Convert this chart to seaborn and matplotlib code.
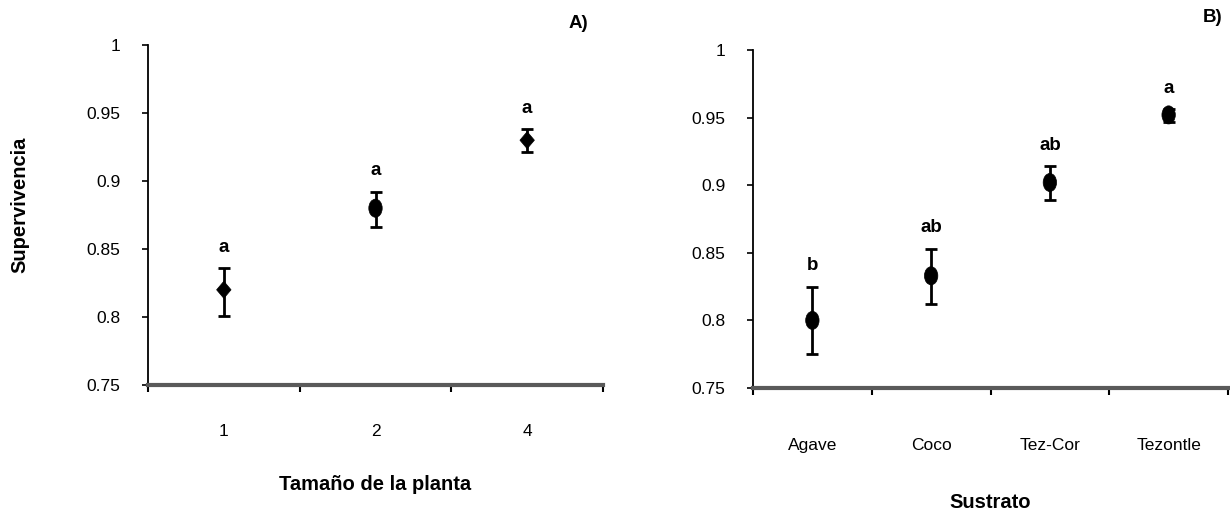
import numpy as np
import pandas as pd
import matplotlib
matplotlib.use("Agg")
import matplotlib.pyplot as plt
from matplotlib.path import Path
from matplotlib.ticker import FixedLocator
import seaborn as sns

# Panel A: survival by plant size
tamano = ['1', '2', '4']
tamano_media = [0.820, 0.880, 0.930]
tamano_inf = [0.801, 0.866, 0.921]
tamano_sup = [0.836, 0.892, 0.938]
tamano_letras = ['a', 'a', 'a']
tamano_forma = ['rombo', 'circulo', 'rombo']

# Panel B: survival by substrate
sustrato = ['Agave', 'Coco', 'Tez-Cor', 'Tezontle']
sustrato_media = [0.800, 0.833, 0.902, 0.952]
sustrato_inf = [0.775, 0.812, 0.889, 0.947]
sustrato_sup = [0.825, 0.853, 0.914, 0.956]
sustrato_letras = ['b', 'ab', 'ab', 'a']
sustrato_forma = ['circulo'] * 4

y_ticks = [0.75, 0.8, 0.85, 0.9, 0.95, 1.0]
y_labels = ['0.75', '0.8', '0.85', '0.9', '0.95', '1']

sns.set_style('white')
plt.rcParams['font.family'] = ['Liberation Sans', 'DejaVu Sans']
plt.rcParams['text.color'] = 'black'
plt.rcParams['axes.labelcolor'] = 'black'
plt.rcParams['xtick.color'] = 'black'
plt.rcParams['ytick.color'] = 'black'

# tall ellipse and narrow diamond, like the spreadsheet markers
circ = Path.unit_circle()
elipse = Path(circ.vertices * np.array([0.74, 1.0]), circ.codes)
rombo = Path([(0, 1), (0.85, 0), (0, -1), (-0.85, 0), (0, 1)],
             [Path.MOVETO, Path.LINETO, Path.LINETO, Path.LINETO, Path.CLOSEPOLY])
marcadores = {'circulo': elipse, 'rombo': rombo}

fig = plt.figure(figsize=(12.3, 5.25), dpi=100)
ax_a = fig.add_axes([148 / 1230, (525 - 385) / 525, (603 - 148) / 1230, 340 / 525])
ax_b = fig.add_axes([753 / 1230, (525 - 388) / 525, (1228 - 753) / 1230, 338 / 525])


def panel(ax, cats, media, inf, sup, letras, forma, xlabel, tick_pad, xlab_y, tamanos):
    df = pd.DataFrame({'cat': cats, 'media': media, 'forma': forma})
    pos = np.arange(len(cats))
    err = [np.array(media) - np.array(inf), np.array(sup) - np.array(media)]
    ax.errorbar(pos, media, yerr=err, fmt='none', ecolor='black',
                elinewidth=2, capsize=4.5, capthick=2, zorder=2)
    sns.scatterplot(data=df, x='cat', y='media', style='forma', markers=marcadores,
                    size='forma', sizes=tamanos, color='black', edgecolor='black',
                    linewidth=0.5, legend=False, ax=ax, zorder=3)
    for i, t in enumerate(letras):
        ax.annotate(t, (i, sup[i]), xytext=(0, 9), textcoords='offset points',
                    ha='center', va='bottom', fontsize=13.5, fontweight='bold')

    ax.set_ylim(0.75, 1.0)
    ax.set_xlim(-0.5, len(cats) - 0.5)
    ax.set_yticks(y_ticks)
    ax.set_yticklabels(y_labels)
    ax.set_xticks(pos)
    ax.set_xticklabels(cats)
    ax.xaxis.set_minor_locator(FixedLocator(np.arange(len(cats) + 1) - 0.5))
    ax.tick_params(axis='x', which='major', length=0, pad=tick_pad, labelsize=12.5)
    ax.tick_params(axis='x', which='minor', length=5, width=1.5, color='black',
                   direction='out', bottom=True)
    ax.tick_params(axis='y', length=4, width=1.2, color='black', direction='out',
                   left=True, pad=16, labelsize=12.5)

    for s in ['top', 'right']:
        ax.spines[s].set_visible(False)
    ax.spines['left'].set_color('black')
    ax.spines['left'].set_linewidth(1.3)
    ax.spines['bottom'].set_color('#5a5a5a')
    ax.spines['bottom'].set_linewidth(3)

    ax.set_xlabel(xlabel, fontsize=14.5, fontweight='bold')
    ax.xaxis.set_label_coords(0.5, xlab_y)
    ax.xaxis.label.set_va('center')
    ax.set_ylabel('')


panel(ax_a, tamano, tamano_media, tamano_inf, tamano_sup, tamano_letras,
      tamano_forma, 'Tamaño de la planta', 28, -(485 - 385) / 340,
      {'circulo': 170, 'rombo': 150})
panel(ax_b, sustrato, sustrato_media, sustrato_inf, sustrato_sup, sustrato_letras,
      sustrato_forma, 'Sustrato', 36, -(502 - 388) / 338,
      {'circulo': 170})

ax_a.set_ylabel('Supervivencia', fontsize=14.5, fontweight='bold')
ax_a.yaxis.set_label_coords(-(148 - 20) / 455, 0.53)
ax_a.yaxis.label.set_va('center')

fig.text(578 / 1230, 1 - 23 / 525, 'A)', ha='center', va='center',
         fontsize=13.5, fontweight='bold')
fig.text(1213 / 1230, 1 - 18 / 525, 'B)', ha='center', va='center',
         fontsize=13.5, fontweight='bold')

fig.savefig('out.png', dpi=100)
